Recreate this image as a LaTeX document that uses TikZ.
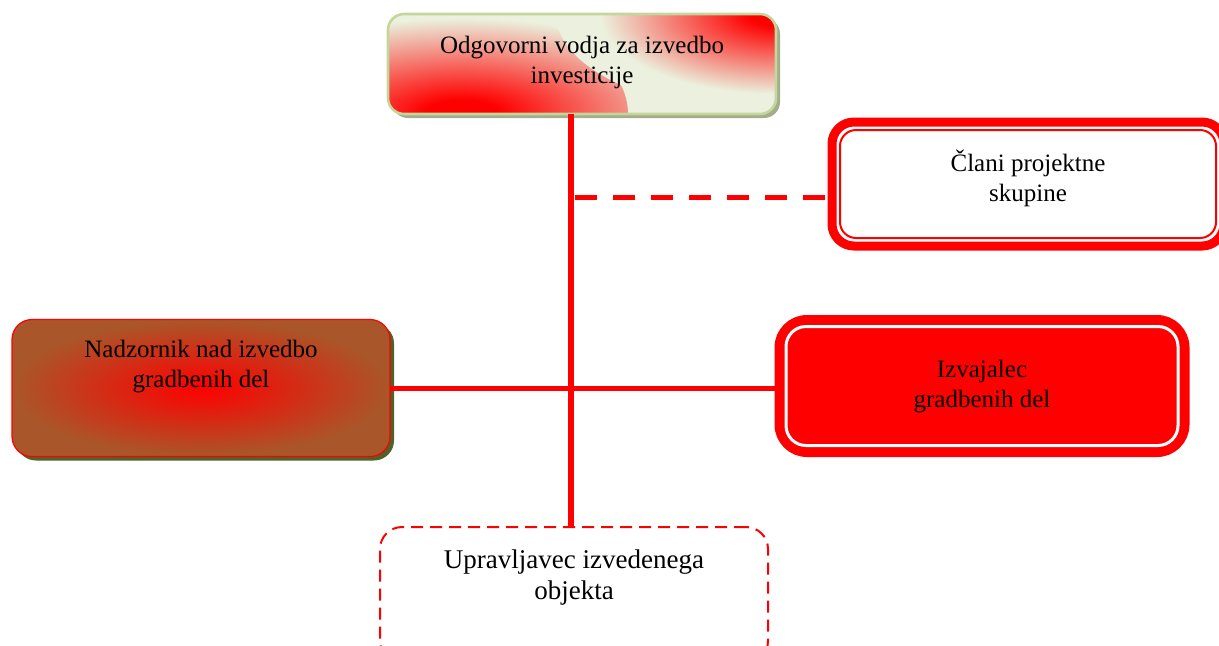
\documentclass[tikz,border=0pt]{standalone}
\usepackage{fontspec}
\setmainfont{Liberation Serif}
\usetikzlibrary{positioning,shadows}
\definecolor{odglight}{HTML}{EBF1DE}
\definecolor{odgborder}{HTML}{C3D69B}
\definecolor{odgshadow}{HTML}{A3AD8C}
\definecolor{nadbrown}{HTML}{A9572A}
\definecolor{nadshadow}{HTML}{4F6228}
\pgfdeclareradialshading{redcorner}{\pgfpoint{0bp}{0bp}}{color(0bp)=(red); color(3bp)=(red); color(20bp)=(odglight); color(50bp)=(odglight)}
\begin{document}
\begin{tikzpicture}[x=0.5pt, y=-0.5pt,
  box/.style={shape=rectangle, outer sep=0pt, inner sep=0pt},
  txt/.style={align=center, inner sep=0pt, font=\fontsize{12.5}{15}\selectfont},
  conn/.style={draw=red, line width=2.8pt}]
\useasboundingbox (0,0) rectangle (1219,645);
\node[box, draw=odgborder, line width=1.3pt, rounded corners=8pt, fill=odglight, minimum width=194pt, minimum height=50pt, drop shadow={shadow xshift=2pt, shadow yshift=-2pt, fill=odgshadow, opacity=1},
  path picture={
    \shade[shading=redcorner] (path picture bounding box.south west) ellipse [x radius=120pt, y radius=60pt];
    \shade[shading=redcorner] (path picture bounding box.north east) ellipse [x radius=110pt, y radius=50pt];
  }] (odg) at (582,64) {};
\node[box, draw=red, line width=4.5pt, rounded corners=11pt, fill=white, minimum width=196pt, minimum height=62pt] (cla) at (1028,184) {};
\draw[red, line width=1pt, rounded corners=8pt] ([shift={(8,8)}]cla.north west) rectangle ([shift={(-8,-8)}]cla.south east);
\node[box, draw=red, line width=0.6pt, rounded corners=10pt, inner color=red, outer color=nadbrown, minimum width=189pt, minimum height=68.5pt, drop shadow={shadow xshift=2pt, shadow yshift=-2pt, fill=nadshadow, opacity=1}] (nad) at (201,388) {};
\node[box, draw=red, fill=red, line width=4.5pt, rounded corners=14pt, minimum width=203pt, minimum height=66.5pt] (izv) at (982,386) {};
\draw[white, line width=1.5pt, rounded corners=10pt] ([shift={(7,7)}]izv.north west) rectangle ([shift={(-7,-7)}]izv.south east);
\node[box, draw=red, line width=1pt, dash pattern=on 6pt off 3.5pt, rounded corners=11pt, minimum width=194pt, minimum height=68pt] (upr) at (574,595) {};
\node[txt, below=11pt of odg.north] (odgtxt) {Odgovorni vodja za izvedbo\\investicije};
\node[txt, below=14pt of cla.north] (clatxt) {Člani projektne\\skupine};
\node[txt, below=10pt of nad.north] (nadtxt) {Nadzornik nad izvedbo\\gradbenih del};
\node[txt, below=20pt of izv.north] (izvtxt) {Izvajalec\\gradbenih del};
\node[txt, font=\fontsize{13.5}{15.5}\selectfont, below=11pt of upr.north] (uprtxt) {Upravljavec izvedenega\\objekta};
\coordinate (spine) at (571,114);
\coordinate (tap) at (575,197);
\draw[conn] (spine) -- (spine |- upr.north);
\draw[conn, line width=2.5pt, dash pattern=on 11pt off 8pt] (tap) -- (tap -| cla.west);
\draw[conn, line width=2.5pt] (nad.east) -- (nad.east -| izv.west);
\end{tikzpicture}
\end{document}
